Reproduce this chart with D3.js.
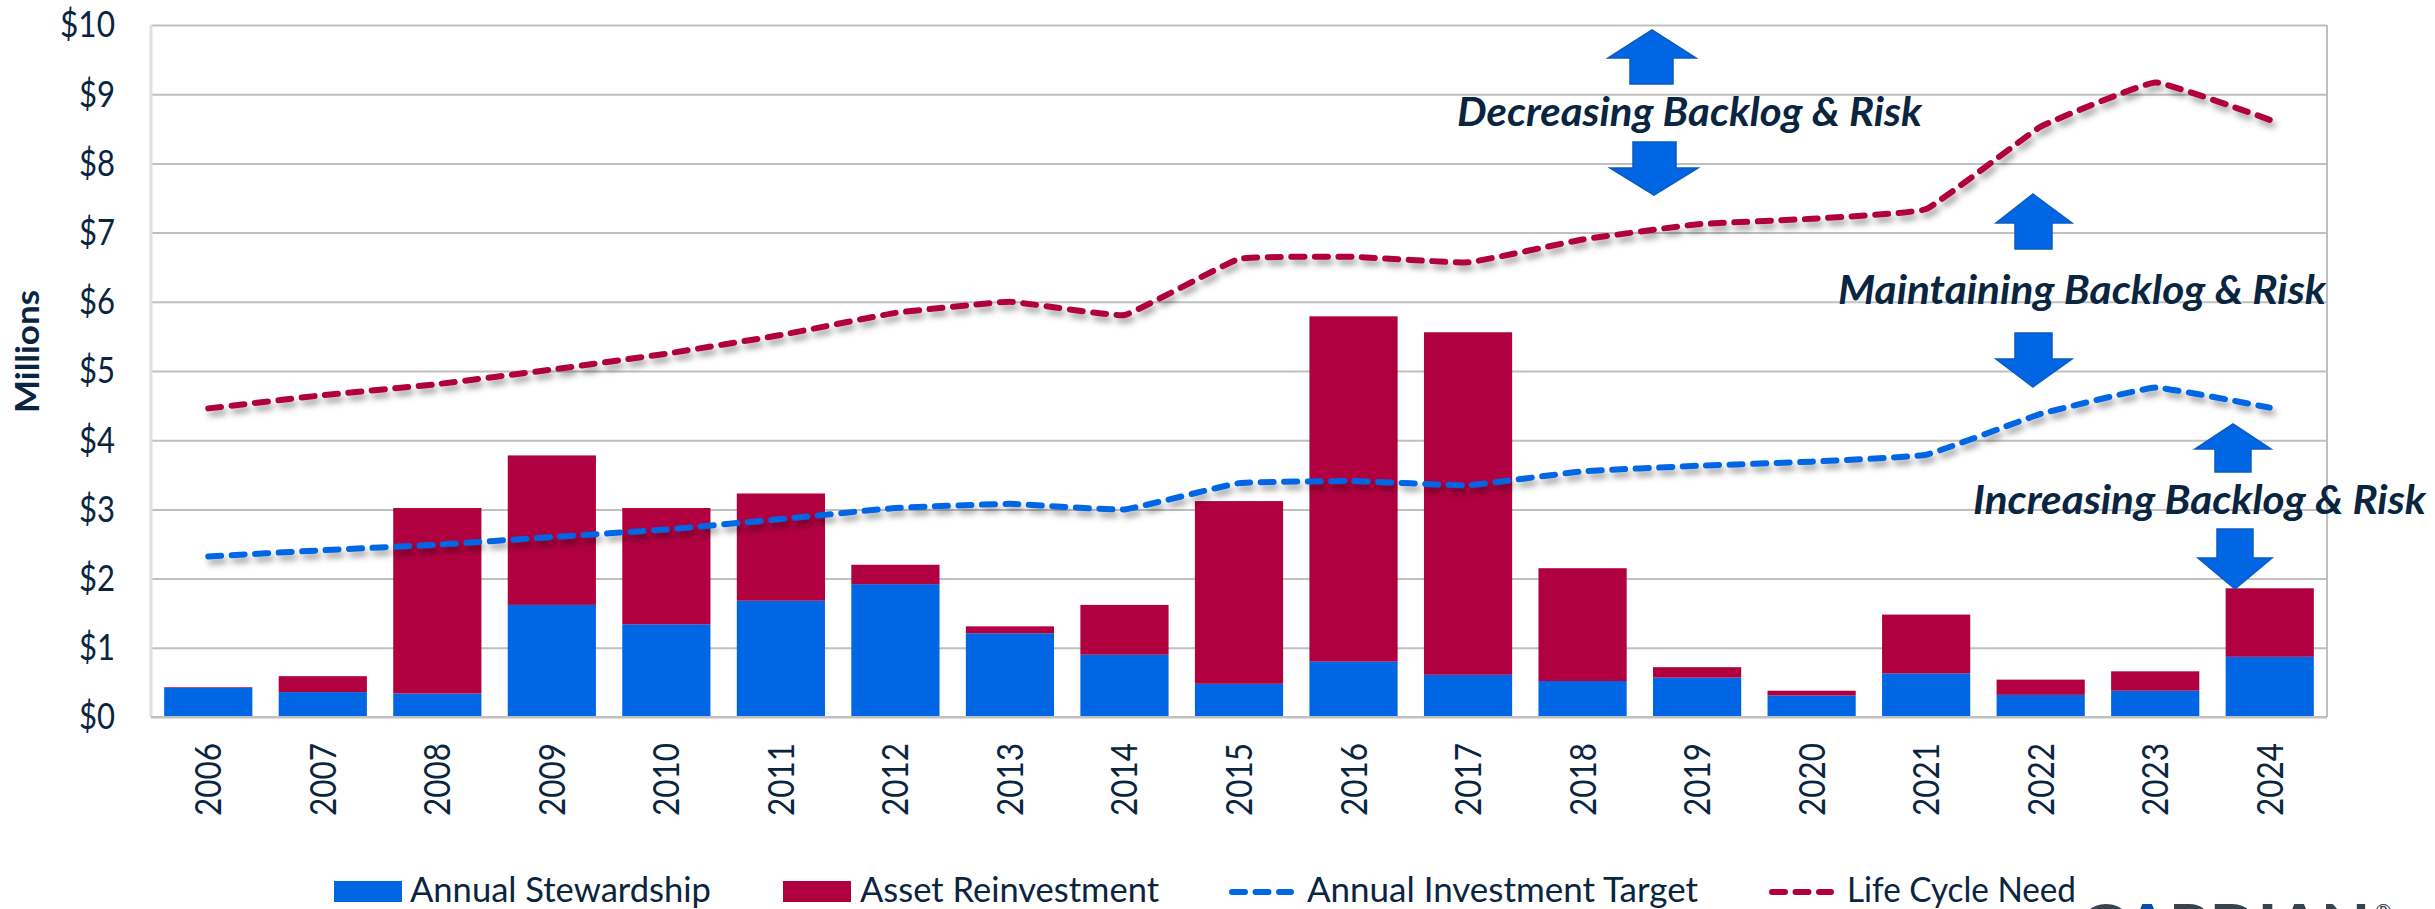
<!DOCTYPE html>
<html>
<head>
<meta charset="utf-8">
<script src="https://cdn.jsdelivr.net/npm/d3@7/dist/d3.min.js"></script>
<style>
html,body{margin:0;padding:0;background:#fff;overflow:hidden}
svg{display:block}
text{font-family:Lato,"Open Sans",sans-serif;fill:#0a2540}
</style>
</head>
<body>
<svg id="c" width="2435" height="909"></svg>
<script>
const years = ["2006","2007","2008","2009","2010","2011","2012","2013","2014","2015","2016","2017","2018","2019","2020","2021","2022","2023","2024"];
const stewardship = [0.42,0.36,0.34,1.62,1.34,1.68,1.92,1.21,0.90,0.48,0.80,0.61,0.52,0.57,0.31,0.63,0.32,0.38,0.87];
const reinvestment = [0.01,0.23,2.68,2.16,1.68,1.55,0.28,0.10,0.72,2.64,4.99,4.95,1.63,0.15,0.07,0.85,0.22,0.28,0.99];
const investmentTarget = [2.32,2.41,2.49,2.60,2.71,2.86,3.02,3.08,3.00,3.38,3.41,3.35,3.55,3.63,3.69,3.79,4.38,4.76,4.47];
const lifeCycleNeed = [4.46,4.65,4.81,5.02,5.25,5.52,5.84,6.00,5.81,6.62,6.65,6.57,6.90,7.12,7.20,7.34,8.53,9.17,8.63];
const yTicks = [0,1,2,3,4,5,6,7,8,9,10];

const BLUE="#0066e3", RED="#b0003f", GRID="#c0c0c0";
const svg=d3.select("#c");
const L=151,R=2327,T=25,B=717;
const x=d3.scaleBand().domain(years).range([L,R]).paddingInner(0.23).paddingOuter(0.115);
const y=d3.scaleLinear().domain([0,10]).range([B,T]);
const cx=d=>x(d)+x.bandwidth()/2;

const defs=svg.append("defs");
const f=defs.append("filter").attr("id","sh").attr("x","-5%").attr("y","-20%").attr("width","110%").attr("height","150%");
f.append("feDropShadow").attr("dx",3).attr("dy",5).attr("stdDeviation",3).attr("flood-color","#000").attr("flood-opacity",0.38);

// grid + y axis
const gy=svg.append("g").attr("transform",`translate(${L},0)`)
 .call(d3.axisLeft(y).tickValues(yTicks).tickFormat(d=>"$"+d).tickSize(-(R-L)).tickPadding(36));
gy.select(".domain").remove();
gy.selectAll("line").attr("stroke",GRID).attr("stroke-width",2);
gy.selectAll("text").attr("font-size",36).attr("dy","0.33em").style("fill","#0a2540")
  .attr("textLength",d=>d===10?55:36).attr("lengthAdjust","spacingAndGlyphs");
svg.append("line").attr("x1",L).attr("x2",L).attr("y1",T).attr("y2",B).attr("stroke","#dde0e4").attr("stroke-width",3);
svg.append("line").attr("x1",R).attr("x2",R).attr("y1",T).attr("y2",B).attr("stroke",GRID).attr("stroke-width",2);

// stacked bars
const stacked=d3.stack().keys([0,1]).value((d,k)=>d[k])(years.map((_,i)=>[stewardship[i],reinvestment[i]]));
[BLUE,RED].forEach((col,k)=>{
  svg.append("g").selectAll("rect").data(stacked[k]).join("rect")
    .attr("x",(d,i)=>x(years[i])).attr("width",x.bandwidth())
    .attr("y",d=>y(d[1])).attr("height",d=>y(d[0])-y(d[1])).attr("fill",col);
});
svg.append("line").attr("x1",L).attr("x2",R).attr("y1",B).attr("y2",B).attr("stroke",GRID).attr("stroke-width",2);

// x axis
const gx=svg.append("g").attr("transform",`translate(0,${B})`).call(d3.axisBottom(x).tickSize(0));
gx.select(".domain").remove();
gx.selectAll("text").attr("font-size",36).attr("text-anchor","end").attr("dy",0)
  .attr("transform","translate(13,26) rotate(-90)").attr("x",0).attr("y",0).style("fill","#0a2540")
  .attr("textLength",73).attr("lengthAdjust","spacingAndGlyphs");

// lines
const line=d3.line().x((d,i)=>cx(years[i])).y(d=>y(d)).curve(d3.curveCardinal.tension(0.72));
[[investmentTarget,BLUE],[lifeCycleNeed,RED]].forEach(([s,c])=>{
  svg.append("path").datum(s).attr("d",line).attr("fill","none").attr("stroke",c)
   .attr("stroke-width",6).attr("stroke-dasharray","13 10.5").attr("stroke-linecap","round").attr("filter","url(#sh)");
});

// y title
svg.append("text").text("Millions").attr("transform","translate(39,413) rotate(-90)")
  .attr("font-size",33).attr("font-weight",700).attr("textLength",123).attr("lengthAdjust","spacingAndGlyphs");

// annotations
const arrows=[
 {tx:1652,sx:1630,ex:1673,wl:1608,wr:1696,tip:30,wing:58,end:84},
 {tx:1654,sx:1633,ex:1676,wl:1610,wr:1698,tip:195,wing:168,end:142},
 {tx:2033,sx:2015,ex:2052,wl:1996,wr:2072,tip:194,wing:223,end:249},
 {tx:2033,sx:2015,ex:2052,wl:1996,wr:2072,tip:387,wing:359,end:333},
 {tx:2233,sx:2215,ex:2251,wl:2195,wr:2271,tip:424,wing:449,end:472},
 {tx:2235,sx:2217,ex:2253,wl:2198,wr:2272,tip:589,wing:558,end:529}
];
svg.append("g").selectAll("polygon").data(arrows).join("polygon")
  .attr("points",a=>[[a.tx,a.tip],[a.wr,a.wing],[a.ex,a.wing],[a.ex,a.end],[a.sx,a.end],[a.sx,a.wing],[a.wl,a.wing]].join(" "))
  .attr("fill",BLUE).attr("stroke","#0b5cc0").attr("stroke-width",1.5);
const notes=[["Decreasing Backlog & Risk",1457,126,465],["Maintaining Backlog & Risk",1838,304,488],["Increasing Backlog & Risk",1973,514,453]];
svg.append("g").selectAll("text").data(notes).join("text").text(d=>d[0])
  .attr("x",d=>d[1]).attr("y",d=>d[2]).attr("textLength",d=>d[3]).attr("lengthAdjust","spacingAndGlyphs")
  .attr("font-size",41).attr("font-weight",700).attr("font-style","italic");

// legend
const lg=svg.append("g");
const legend=[["Annual Stewardship",410,301,"box",BLUE,334,402],["Asset Reinvestment",860,299,"box",RED,783,851],
 ["Annual Investment Target",1307,391,"dash",BLUE,1229,1294],["Life Cycle Need",1847,229,"dash",RED,1769,1834]];
legend.forEach(([t,tx,tw,kind,c,a,b])=>{
  if(kind==="box") lg.append("rect").attr("x",a).attr("y",881).attr("width",b-a).attr("height",21).attr("fill",c);
  else lg.append("line").attr("x1",a+3).attr("x2",b-3).attr("y1",892).attr("y2",892).attr("stroke",c).attr("stroke-width",6).attr("stroke-dasharray","13 10.5").attr("stroke-linecap","round");
  lg.append("text").text(t).attr("x",tx).attr("y",902).attr("font-size",34).attr("textLength",tw).attr("lengthAdjust","spacingAndGlyphs");
});

// logo, cut by the page bottom as in the reference
const logo=svg.append("text").attr("x",2080).attr("y",948).attr("font-size",60).attr("font-weight",900)
  .attr("textLength",290).attr("lengthAdjust","spacingAndGlyphs").style("fill","#37444f");
logo.append("tspan").text("G");
logo.append("tspan").text("A").style("fill","#0a4ea2");
logo.append("tspan").text("RDIAN");
svg.append("text").text("®").attr("x",2375).attr("y",918).attr("font-size",20).style("fill","#37444f");
</script>
</body>
</html>
